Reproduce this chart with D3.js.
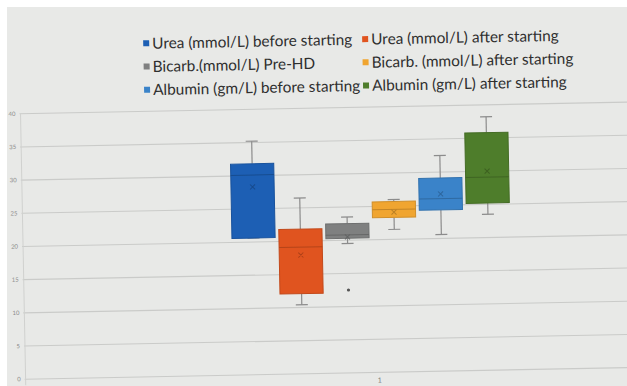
<!DOCTYPE html>
<html>
<head>
<meta charset="utf-8">
<script src="https://cdn.jsdelivr.net/npm/d3@7"></script>
<style>
  body { margin: 0; background: #fff; }
  svg { display: block; }
</style>
</head>
<body>
<div id="chart"></div>
<script>
// series names and box-plot summaries
var names = [
    "Urea (mmol/L) before starting",
    "Urea (mmol/L) after starting",
    "Bicarb.(mmol/L) Pre-HD",
    "Bicarb. (mmol/L) after starting",
    "Albumin (gm/L) before starting",
    "Albumin (gm/L) after starting"
]
var colors = ["#1d5fb4", "#e0541f", "#7f8080", "#f0a530", "#3a83c9", "#4e7d2b"]
var mins    = [20.6, 10.4, 19.5, 21.5, 20.6, 23.5]
var q1s     = [20.6, 12.1, 20.3, 23.3, 24.3, 25.2]
var medians = [30.1, 19.1, 20.8, 24.5, 26.0, 29.1]
var q3s     = [31.8, 21.8, 22.5, 25.7, 29.1, 35.8]
var maxs    = [35.2, 26.5, 23.5, 26.0, 32.5, 38.2]
var means   = [28.3, 17.9, 20.5, 24.1, 26.7, 30.0]
var outliers = [[], [], [12.5], [], [], []]
var yTicks = [0, 5, 10, 15, 20, 25, 30, 35, 40]
var category = "1"

var width = 627, height = 386;

var svg = d3.select("#chart").append("svg")
    .attr("width", width)
    .attr("height", height);

svg.append("rect")
    .attr("width", width).attr("height", height)
    .attr("fill", "#e8e9e7");

// photo is a little tilted
var g = svg.append("g")
    .attr("transform", "rotate(-1.1, 320, 240)");

var y = d3.scaleLinear().domain([0, 40]).range([373.5, 108]);
var x = d3.scaleBand().domain(names).range([232, 510]).paddingInner(0.08);

// gridlines
g.append("g")
    .selectAll("line")
    .data(yTicks).enter()
    .append("line")
    .attr("x1", 22).attr("x2", 660)
    .attr("y1", d => y(d)).attr("y2", d => y(d))
    .attr("stroke", "#cacbc9")
    .attr("stroke-width", 1.1);

g.append("line")
    .attr("x1", 23).attr("x2", 23)
    .attr("y1", y(40)).attr("y2", y(0) + 6)
    .attr("stroke", "#d0d1cf");

// y tick labels
g.append("g")
    .attr("font-family", "Lato, sans-serif")
    .attr("font-size", 6)
    .attr("fill", "#8a8a8a")
    .attr("text-anchor", "end")
    .selectAll("text")
    .data(yTicks).enter()
    .append("text")
    .attr("x", 18)
    .attr("y", d => y(d) + 2)
    .text(d => d);

g.append("text")
    .attr("x", 377).attr("y", y(0) + 10)
    .attr("font-family", "Lato, sans-serif")
    .attr("font-size", 7)
    .attr("fill", "#777")
    .attr("text-anchor", "middle")
    .text(category);

var I = d3.range(names.length);
var boxes = g.append("g").selectAll("g").data(I).enter().append("g");

// whiskers
boxes.append("line")
    .attr("x1", i => x(names[i]) + x.bandwidth() / 2)
    .attr("x2", i => x(names[i]) + x.bandwidth() / 2)
    .attr("y1", i => y(maxs[i])).attr("y2", i => y(q3s[i]))
    .attr("stroke", "#8c8c8c").attr("stroke-width", 1.2);
boxes.append("line")
    .attr("x1", i => x(names[i]) + x.bandwidth() / 2)
    .attr("x2", i => x(names[i]) + x.bandwidth() / 2)
    .attr("y1", i => y(mins[i])).attr("y2", i => y(q1s[i]))
    .attr("stroke", "#8c8c8c").attr("stroke-width", 1.2);
[maxs, mins].forEach(arr => {
    boxes.append("line")
        .attr("x1", i => x(names[i]) + x.bandwidth() / 2 - 6)
        .attr("x2", i => x(names[i]) + x.bandwidth() / 2 + 6)
        .attr("y1", i => y(arr[i])).attr("y2", i => y(arr[i]))
        .attr("stroke", "#8c8c8c").attr("stroke-width", 1.2);
});

// boxes
boxes.append("rect")
    .attr("x", i => x(names[i]))
    .attr("width", x.bandwidth())
    .attr("y", i => y(q3s[i]))
    .attr("height", i => y(q1s[i]) - y(q3s[i]))
    .attr("fill", i => colors[i])
    .attr("stroke", i => d3.color(colors[i]).darker(0.4))
    .attr("stroke-width", 1);

// median
boxes.append("line")
    .attr("x1", i => x(names[i]))
    .attr("x2", i => x(names[i]) + x.bandwidth())
    .attr("y1", i => y(medians[i])).attr("y2", i => y(medians[i]))
    .attr("stroke", i => d3.color(colors[i]).darker(0.6))
    .attr("stroke-width", 1);

// mean marker
boxes.append("path")
    .attr("transform", i => `translate(${x(names[i]) + x.bandwidth() / 2},${y(means[i])})`)
    .attr("d", "M-2.5,-2.5L2.5,2.5M-2.5,2.5L2.5,-2.5")
    .attr("stroke", i => d3.color(colors[i]).darker(0.7))
    .attr("stroke-width", 1);

// outliers
boxes.selectAll("circle")
    .data(i => outliers[i].map(v => ({ i: i, v: v }))).enter()
    .append("circle")
    .attr("cx", d => x(names[d.i]) + x.bandwidth() / 2)
    .attr("cy", d => y(d.v))
    .attr("r", 1.6)
    .attr("fill", "#555");

// legend
var legend = g.append("g")
    .attr("font-family", "Lato, sans-serif")
    .attr("font-size", 15.4)
    .attr("fill", "#2f2f2f");
var item = legend.selectAll("g").data(I).enter().append("g")
    .attr("transform", i => `translate(${i % 2 === 0 ? 147 : 366},${40.5 + Math.floor(i / 2) * 23.2})`);
item.append("rect")
    .attr("x", 0).attr("y", -3.5)
    .attr("width", 6).attr("height", 6)
    .attr("fill", i => colors[i]);
item.append("text")
    .attr("x", 9).attr("y", 5)
    .text(i => names[i]);

// white photo edge
svg.append("rect").attr("width", width).attr("height", 7).attr("fill", "#fff");
svg.append("rect").attr("width", 7).attr("height", height).attr("fill", "#fff");
</script>
</body>
</html>
